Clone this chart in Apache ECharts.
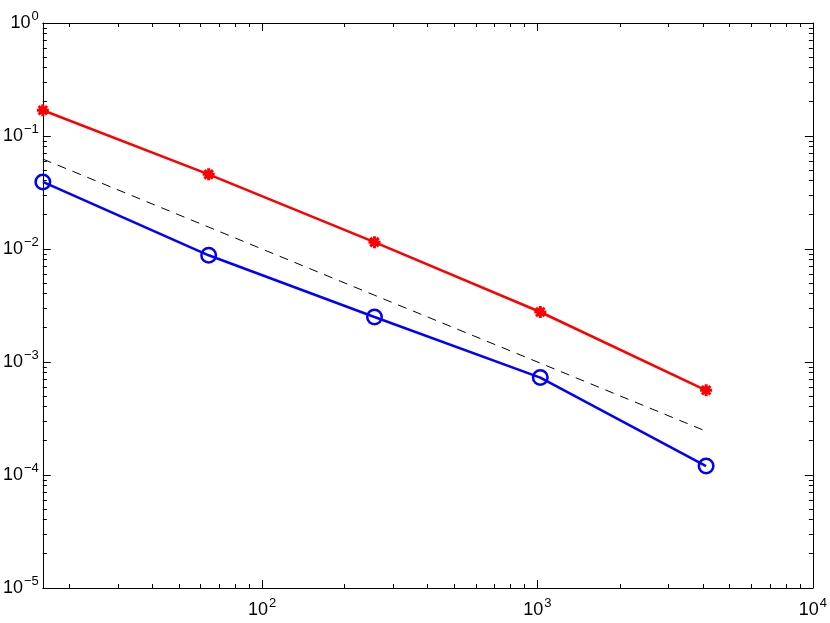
<!DOCTYPE html>
<html>
<head>
<meta charset="utf-8">
<title>convergence</title>
<script src="https://cdn.jsdelivr.net/npm/echarts@6/dist/echarts.min.js"></script>
<style>
  html, body { margin: 0; padding: 0; background: #fff; }
  #chart { width: 830px; height: 623px; }
</style>
</head>
<body>
<div id="chart"></div>
<script>
// problem sizes N and the errors
const nValues = [16, 64, 256, 1024, 4096];
const errStar = [0.169, 0.0458, 0.0115, 0.00277, 0.000562];
const errCircle = [0.0392, 0.0088, 0.0025, 0.000728, 0.00012];
const refLine = [0.0625, 0.015625, 0.0039, 0.000977, 0.000244];

// axis ranges and minor tick positions (log axes, matlab style)
const xRange = [16, 10000];
const yRange = [1e-5, 1];
const minorX = [20, 30, 40, 50, 60, 70, 80, 90,
  200, 300, 400, 500, 600, 700, 800, 900,
  2000, 3000, 4000, 5000, 6000, 7000, 8000, 9000];
const minorY = [2e-5, 3e-5, 4e-5, 5e-5, 6e-5, 7e-5, 8e-5, 9e-5,
  2e-4, 3e-4, 4e-4, 5e-4, 6e-4, 7e-4, 8e-4, 9e-4,
  2e-3, 3e-3, 4e-3, 5e-3, 6e-3, 7e-3, 8e-3, 9e-3,
  2e-2, 3e-2, 4e-2, 5e-2, 6e-2, 7e-2, 8e-2, 9e-2,
  0.2, 0.3, 0.4, 0.5, 0.6, 0.7, 0.8, 0.9];

const FONT = "Liberation Sans";

function powLabel(v) {
  const e = Math.log10(v);
  const r = Math.round(e);
  if (Math.abs(e - r) > 1e-6) return "";
  const exp = r < 0 ? "\u2212" + (-r) : String(r);
  return "{b|10}{s|" + exp + "}";
}

const labelRich = {
  b: { fontSize: 18, fontFamily: FONT, color: "#000" },
  s: { fontSize: 13, fontFamily: FONT, color: "#000", padding: [0, 0, 13, 1] },
};

function axisBase(pos, range, showLabel) {
  return {
    type: "log",
    logBase: 10,
    position: pos,
    min: range[0],
    max: range[1],
    splitLine: { show: false },
    axisLine: { show: true, onZero: false, lineStyle: { color: "#000", width: 1 } },
    axisTick: { show: true, inside: true, length: 8, lineStyle: { color: "#000", width: 1 } },
    axisLabel: {
      show: showLabel,
      formatter: powLabel,
      fontSize: 18,
      fontFamily: FONT,
      color: "#000",
      rich: labelRich,
      margin: 4,
    },
  };
}

const crisp = (v) => Math.round(v - 0.5) + 0.5;

function tickLine(x1, y1, x2, y2) {
  return {
    type: "line",
    shape: { x1: x1, y1: y1, x2: x2, y2: y2 },
    style: { stroke: "#000", lineWidth: 1 },
  };
}

let chartDom = document.getElementById("chart");
let myChart = echarts.init(chartDom, null, { renderer: "canvas" });

let xMain = axisBase("bottom", xRange, true);
xMain.axisLabel.margin = 9;
let xTop = axisBase("top", xRange, false);
let yMain = axisBase("left", yRange, true);
let yRight = axisBase("right", yRange, false);

let option = {
  animation: false,
  backgroundColor: "#fff",
  grid: { left: 42, top: 23, right: 17, bottom: 35 },
  xAxis: [xMain, xTop],
  yAxis: [yMain, yRight],
  series: [
    {
      name: "minorX",
      type: "custom",
      silent: true,
      clip: false,
      renderItem: function (params, api) {
        const v = api.value(0);
        const pb = api.coord([v, yRange[0]]);
        const pt = api.coord([v, yRange[1]]);
        const x = crisp(pb[0]);
        return {
          type: "group",
          children: [
            tickLine(x, pb[1], x, pb[1] - 4),
            tickLine(x, pt[1], x, pt[1] + 4),
          ],
        };
      },
      data: minorX.map((v) => [v, yRange[0]]),
    },
    {
      name: "minorY",
      type: "custom",
      silent: true,
      clip: false,
      renderItem: function (params, api) {
        const v = api.value(1);
        const pl = api.coord([xRange[0], v]);
        const pr = api.coord([xRange[1], v]);
        const y = crisp(pl[1]);
        return {
          type: "group",
          children: [
            tickLine(pl[0], y, pl[0] + 4, y),
            tickLine(pr[0], y, pr[0] - 4, y),
          ],
        };
      },
      data: minorY.map((v) => [xRange[0], v]),
    },
    {
      name: "reference",
      type: "line",
      clip: false,
      showSymbol: false,
      symbol: "none",
      lineStyle: { color: "#000", width: 1, type: [9, 7] },
      data: nValues.map((n, i) => [n, refLine[i]]),
    },
    {
      name: "star",
      type: "line",
      clip: false,
      symbol: "path://M12,0L12,24M0,12L24,12M3.5,3.5L20.5,20.5M3.5,20.5L20.5,3.5",
      symbolSize: 12,
      itemStyle: { color: "#ff0000", borderColor: "#ff0000", borderWidth: 3 },
      lineStyle: { color: "#ff0000", width: 2.5 },
      data: nValues.map((n, i) => [n, errStar[i]]),
    },
    {
      name: "circle",
      type: "line",
      clip: false,
      symbol: "circle",
      symbolSize: 14.5,
      itemStyle: { color: "rgba(0,0,0,0)", borderColor: "#0000ff", borderWidth: 2.5 },
      lineStyle: { color: "#0000ff", width: 2.5 },
      data: nValues.map((n, i) => [n, errCircle[i]]),
    },
  ],
};

option && myChart.setOption(option);
</script>
</body>
</html>
